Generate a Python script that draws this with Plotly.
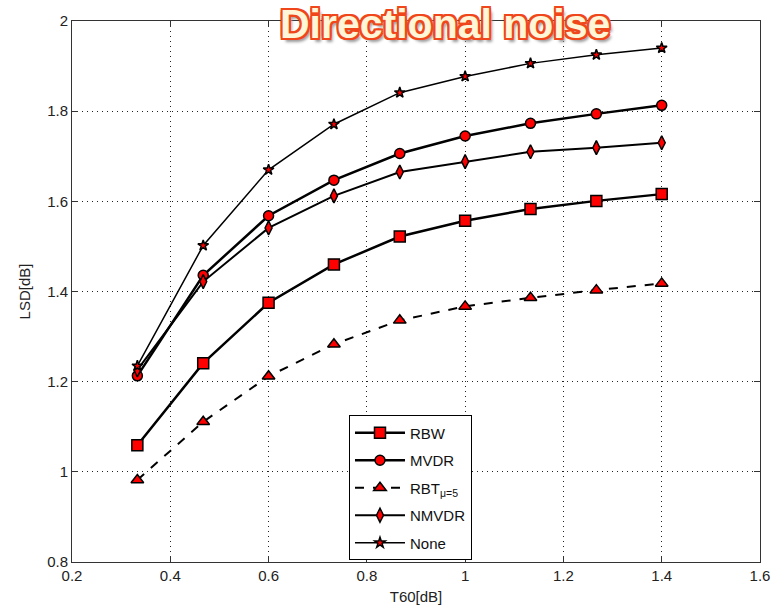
import plotly.graph_objects as go

t60 = [0.333, 0.467, 0.6, 0.733, 0.867, 1.0, 1.133, 1.267, 1.4]
rbw = [1.059, 1.241, 1.375, 1.460, 1.522, 1.557, 1.583, 1.601, 1.616]
mvdr = [1.213, 1.436, 1.568, 1.647, 1.706, 1.745, 1.773, 1.794, 1.813]
rbt = [0.982, 1.111, 1.212, 1.283, 1.336, 1.367, 1.386, 1.403, 1.418]
nmvdr = [1.226, 1.422, 1.541, 1.612, 1.665, 1.688, 1.710, 1.719, 1.730]
none = [1.235, 1.502, 1.670, 1.771, 1.841, 1.877, 1.906, 1.925, 1.940]

x_ticks = [0.2, 0.4, 0.6, 0.8, 1.0, 1.2, 1.4, 1.6]
x_tick_text = ["0.2", "0.4", "0.6", "0.8", "1", "1.2", "1.4", "1.6"]
y_ticks = [0.8, 1.0, 1.2, 1.4, 1.6, 1.8, 2.0]
y_tick_text = ["0.8", "1", "1.2", "1.4", "1.6", "1.8", "2"]

series = [
    ("RBW", rbw, "square", 11, "solid", 2.5),
    ("MVDR", mvdr, "circle", 10, "solid", 2.5),
    ("RBT<sub>μ=5</sub>", rbt, "triangle-up", 11, "dash", 2),
    ("NMVDR", nmvdr, "diamond-tall", 10, "solid", 2),
    ("None", none, "star", 8, "solid", 1.5),
]

fig = go.Figure()
for i, (name, ys, sym, sz, dash, lw) in enumerate(series):
    fig.add_trace(go.Scatter(
        x=t60, y=ys, name=name, mode="lines+markers",
        legendgroup=f"g{i}",
        line=dict(color="black", width=lw, dash=dash),
        marker=dict(symbol=sym, size=sz, color="#ff0000",
                    line=dict(color="black", width=1.5)),
    ))

axis_font = dict(family="Liberation Sans, Arial, sans-serif", size=15, color="#222")

fig.update_layout(
    width=782, height=615,
    margin=dict(l=72, r=12, t=21, b=50),
    paper_bgcolor="white", plot_bgcolor="white",
    font=axis_font,
    showlegend=True,
    legend=dict(
        x=0.4026, y=0.2708, xanchor="left", yanchor="top",
        bgcolor="white", bordercolor="black", borderwidth=1,
        font=dict(family="Liberation Sans, Arial, sans-serif", size=15, color="#111"),
        tracegroupgap=5, itemwidth=50,
    ),
    xaxis=dict(
        range=[0.2, 1.6], tickvals=x_ticks, ticktext=x_tick_text,
        showgrid=True, gridcolor="#222", griddash="1px,4px", gridwidth=1,
        showline=True, linecolor="#333", linewidth=1, mirror="ticks",
        ticks="inside", ticklen=6, tickcolor="#333", zeroline=False,
        title=dict(text="T60[dB]", font=axis_font, standoff=8),
    ),
    yaxis=dict(
        range=[0.8, 2.0], tickvals=y_ticks, ticktext=y_tick_text,
        showgrid=True, gridcolor="#222", griddash="1px,4px", gridwidth=1,
        showline=True, linecolor="#333", linewidth=1, mirror="ticks",
        ticks="inside", ticklen=6, tickcolor="#333", zeroline=False,
        title=dict(text="LSD[dB]", font=axis_font, standoff=12),
    ),
)

oc = "#f0461c"
shadow = ", ".join([
    f"-2px -2px 0 {oc}", f"2px -2px 0 {oc}", f"-2px 2px 0 {oc}", f"2px 2px 0 {oc}",
    f"0 2px 0 {oc}", f"0 -2px 0 {oc}", f"2px 0 0 {oc}", f"-2px 0 0 {oc}",
    "3px 4px 3px #999",
])
fig.add_annotation(
    text="<b>Directional noise</b>", xref="paper", yref="paper",
    x=0.5415, y=0.995, xanchor="center", yanchor="middle", showarrow=False,
    font=dict(family="Liberation Sans, Arial, sans-serif", size=41, color="#fff6d8",
              shadow=shadow),
)

fig.write_html("out.html")
